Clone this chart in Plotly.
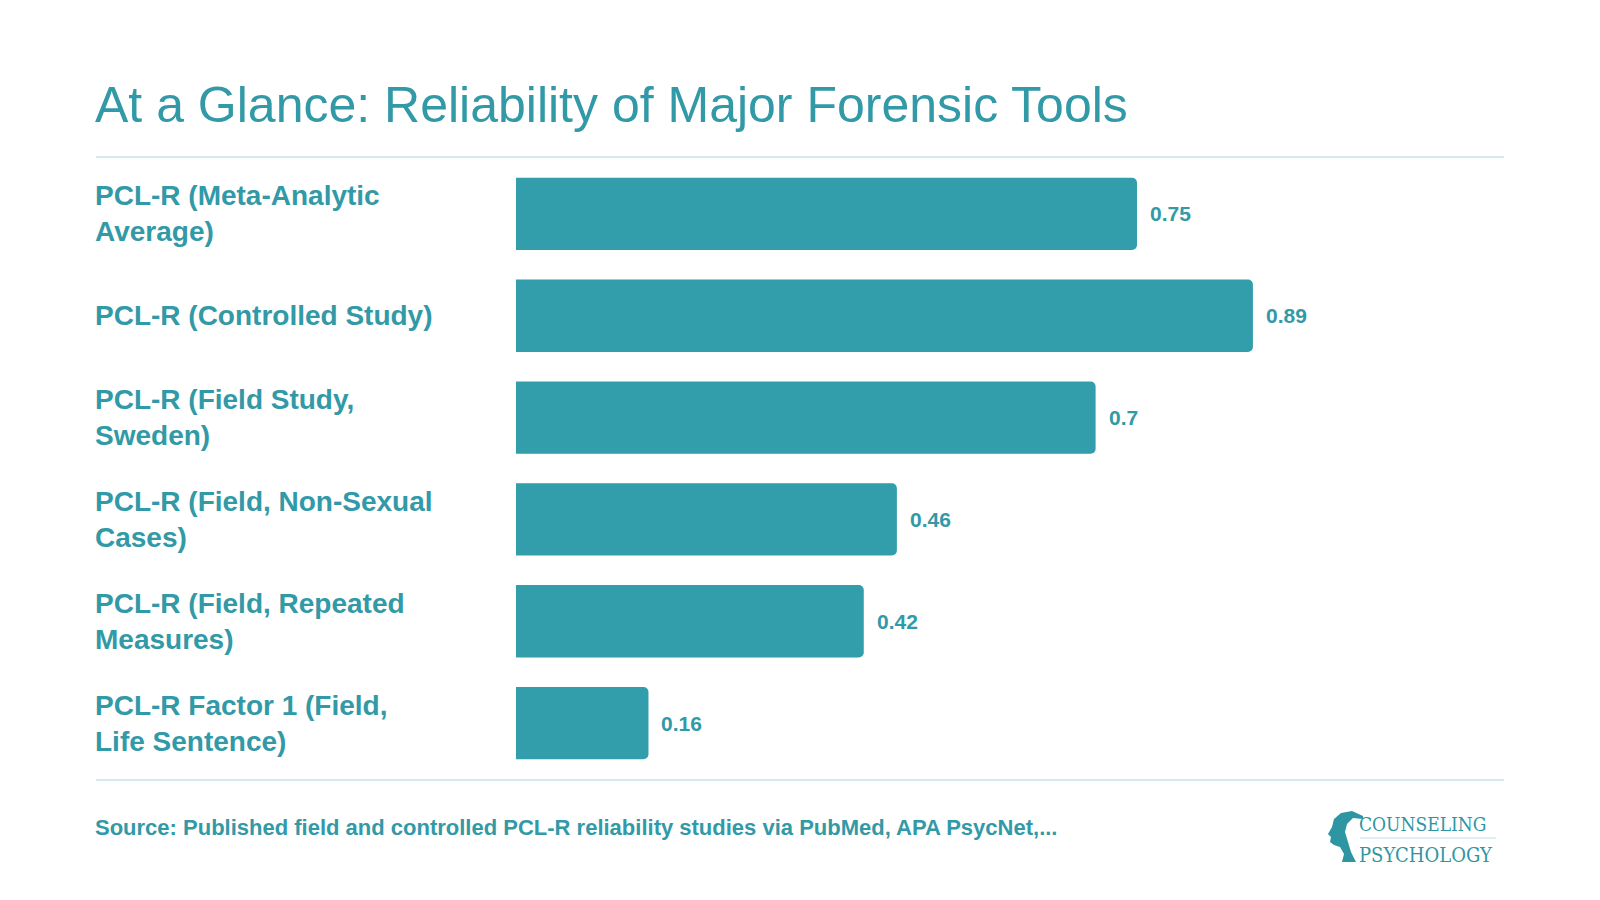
import plotly.graph_objects as go

categories = [
    "PCL-R (Meta-Analytic<br>Average)",
    "PCL-R (Controlled Study)",
    "PCL-R (Field Study,<br>Sweden)",
    "PCL-R (Field, Non-Sexual<br>Cases)",
    "PCL-R (Field, Repeated<br>Measures)",
    "PCL-R Factor 1 (Field,<br>Life Sentence)",
]
values = [0.75, 0.89, 0.70, 0.46, 0.42, 0.16]
value_labels = ["0.75", "0.89", "0.7", "0.46", "0.42", "0.16"]

title_text = "At a Glance: Reliability of Major Forensic Tools"
source_text = "Source: Published field and controlled PCL-R reliability studies via PubMed, APA PsycNet,..."

BAR = "#329DAB"
TXT = "#3299A7"
LINE = "#D6E9EE"
LOGO = "#2E96A2"
FONT = "Liberation Sans, Arial, Helvetica, sans-serif"
SERIF = "DejaVu Serif Condensed, Liberation Serif, DejaVu Serif, serif"

W, H = 1600, 900
ML, MR, MT, MB = 516, 96, 163, 126
PW = W - ML - MR
PH = H - MT - MB

def px_x(px):
    return (px - ML) / PW

def px_y(py):
    return (H - MB - py) / PH

fig = go.Figure()
fig.add_trace(go.Bar(
    x=values, y=categories, orientation="h",
    marker=dict(color=BAR, line=dict(width=0), cornerradius=5),
    hoverinfo="skip",
))

annotations = []
for c, v, t in zip(categories, values, value_labels):
    annotations.append(dict(
        x=v, y=c, xref="x", yref="y", text="<b>%s</b>" % t, showarrow=False,
        xanchor="left", yanchor="middle", xshift=11,
        font=dict(family=FONT, size=21, color=TXT),
    ))
    annotations.append(dict(
        x=px_x(93), y=c, xref="paper", yref="y", text="<b>%s</b>" % c, showarrow=False,
        xanchor="left", yanchor="middle", align="left",
        font=dict(family=FONT, size=28, color=TXT),
    ))

annotations.append(dict(
    x=px_x(93), y=px_y(827), xref="paper", yref="paper", text="<b>%s</b>" % source_text,
    showarrow=False, xanchor="left", yanchor="middle",
    font=dict(family=FONT, size=22, color=TXT),
))
# logo text
annotations.append(dict(
    x=px_x(1357), y=px_y(824), xref="paper", yref="paper", text="COUNSELING",
    showarrow=False, xanchor="left", yanchor="middle",
    font=dict(family=SERIF, size=19, color=LOGO),
))
annotations.append(dict(
    x=px_x(1357), y=px_y(855), xref="paper", yref="paper", text="PSYCHOLOGY",
    showarrow=False, xanchor="left", yanchor="middle",
    font=dict(family=SERIF, size=20, color=LOGO),
))

shapes = [
    dict(type="line", xref="paper", yref="paper", x0=px_x(96), x1=px_x(1504),
         y0=px_y(157), y1=px_y(157), line=dict(color=LINE, width=2)),
    dict(type="line", xref="paper", yref="paper", x0=px_x(96), x1=px_x(1504),
         y0=px_y(780), y1=px_y(780), line=dict(color=LINE, width=2)),
    dict(type="line", xref="paper", yref="paper", x0=px_x(1360), x1=px_x(1496),
         y0=px_y(838), y1=px_y(838), line=dict(color="#BFE0E5", width=1)),
]

# head silhouette for logo (pixel coords converted to paper)
head_pts = [(1363, 816), (1352, 811), (1341, 813), (1334, 819), (1332, 827),
            (1328, 834), (1331, 837), (1330, 842), (1334, 845), (1340, 847),
            (1344, 854), (1342, 862), (1356, 862), (1351, 852), (1348, 842),
            (1345, 832), (1347, 824), (1353, 818), (1363, 819)]
path = "M " + " L ".join("%f,%f" % (px_x(a), px_y(b)) for a, b in head_pts) + " Z"
shapes.append(dict(type="path", xref="paper", yref="paper", path=path,
                   fillcolor=LOGO, line=dict(width=0)))

fig.update_layout(
    width=W, height=H,
    margin=dict(l=ML, r=MR, t=MT, b=MB, pad=0),
    paper_bgcolor="white", plot_bgcolor="white",
    title=dict(text=title_text, x=95 / W, xanchor="left", xref="container",
               y=1 - 104 / H, yanchor="middle",
               font=dict(family=FONT, size=50, color=TXT)),
    xaxis=dict(range=[0, PW / 828], visible=False, fixedrange=True),
    yaxis=dict(autorange="reversed", showticklabels=False, showgrid=False,
               zeroline=False, showline=False, ticks="", fixedrange=True),
    bargap=0.29,
    showlegend=False,
    annotations=annotations,
    shapes=shapes,
)

fig.write_html("out.html")
